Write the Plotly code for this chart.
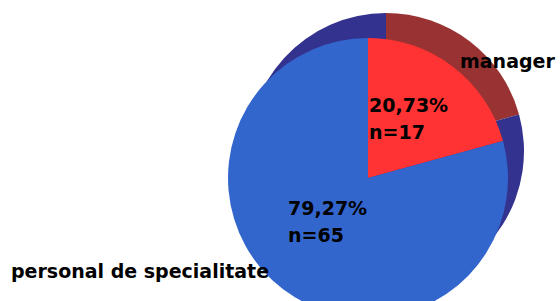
import plotly.graph_objects as go

# Data
categories = ["manager", "personal de specialitate"]
counts = [17, 65]
percent_labels = ["20,73", "79,27"]

front_colors = ["#ff3333", "#3366cc"]
back_colors = ["#993333", "#33338f"]

W, H = 560, 320

def dom_x(cx, r):
    return [(cx - r) / W, (cx + r) / W]

def dom_y(cy, r):
    return [1 - (cy + r) / H, 1 - (cy - r) / H]

fig = go.Figure()
# back (depth) layer
fig.add_trace(go.Pie(
    labels=categories, values=counts, sort=False, direction="clockwise",
    rotation=0, textinfo="none", hoverinfo="skip", showlegend=False,
    marker=dict(colors=back_colors, line=dict(width=0)),
    domain=dict(x=dom_x(386, 138), y=dom_y(151, 138)),
))
# front layer
fig.add_trace(go.Pie(
    labels=categories, values=counts, sort=False, direction="clockwise",
    rotation=0, textinfo="none", showlegend=False,
    marker=dict(colors=front_colors, line=dict(width=0)),
    domain=dict(x=dom_x(368, 140), y=dom_y(178, 140)),
))

font = dict(family="DejaVu Sans", size=19, color="black")

def px(x):
    return x / W

def py(y):
    return 1 - y / H

ann = [
    (458, 61, f"<b>{categories[0]}</b>"),
    (9, 271, f"<b>{categories[1]}</b>"),
    (367, 105, f"<b>{percent_labels[0]}%</b>"),
    (367, 132, f"<b>n={counts[0]}</b>"),
    (286, 208, f"<b>{percent_labels[1]}%</b>"),
    (286, 235, f"<b>n={counts[1]}</b>"),
]
for x, y, t in ann:
    fig.add_annotation(x=px(x), y=py(y), xref="paper", yref="paper",
                       text=t, showarrow=False, xanchor="left", yanchor="middle",
                       font=font)

fig.update_layout(
    width=W, height=H, margin=dict(l=0, r=0, t=0, b=0),
    paper_bgcolor="white", plot_bgcolor="white",
)

fig.write_html(
    "out.html",
    config={"displayModeBar": False},
    post_script="document.body.style.margin='0';document.body.style.overflow='hidden';document.documentElement.style.overflow='hidden';",
)
